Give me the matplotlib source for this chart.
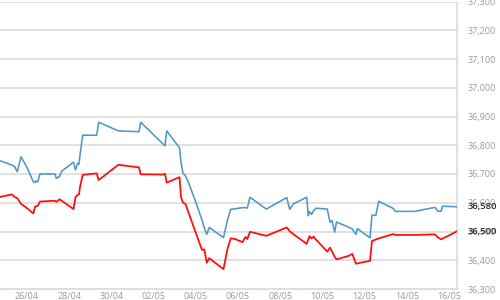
import matplotlib
matplotlib.use("Agg")
import matplotlib.pyplot as plt

# x positions in days from 26/04 00:00
days = [-1.280, -0.711, -0.592, -0.460, -0.284, -0.014, 0.299, 0.379, 0.427, 0.507,
        0.616, 1.327, 1.389, 1.540, 1.645, 2.204, 2.299, 2.393, 2.464, 2.512,
        2.640, 3.303, 3.398, 4.327, 5.308, 5.389, 6.469, 6.540, 6.621, 7.227,
        7.299, 7.393, 7.512, 7.654, 7.962, 8.294, 8.403, 8.521, 8.635, 9.313,
        9.502, 9.654, 9.858, 10.213, 10.355, 10.441, 10.569, 11.341, 12.313, 12.450,
        12.621, 13.256, 13.332, 13.389, 13.483, 13.578, 13.697, 14.232, 14.360, 14.455,
        14.583, 14.668, 15.237, 15.417, 15.592, 15.654, 16.256, 16.351, 16.531, 16.673,
        17.360, 17.455, 18.389, 19.336, 19.479, 19.630, 19.692, 20.365]

blue_vals = [36746, 36731, 36726, 36708, 36760, 36725, 36673, 36670, 36676, 36672,
             36700, 36700, 36685, 36691, 36710, 36741, 36714, 36737, 36734, 36766,
             36835, 36835, 36880, 36850, 36847, 36880, 36803, 36798, 36850, 36791,
             36742, 36703, 36693, 36670, 36610, 36540, 36512, 36490, 36514, 36479,
             36540, 36577, 36579, 36583, 36583, 36581, 36619, 36578, 36618, 36577,
             36596, 36619, 36555, 36569, 36560, 36572, 36581, 36578, 36532, 36538,
             36498, 36533, 36515, 36509, 36490, 36510, 36478, 36557, 36556, 36605,
             36580, 36570, 36570, 36584, 36570, 36571, 36588, 36586]

red_vals = [36620, 36629, 36620, 36616, 36596, 36582, 36563, 36586, 36588, 36589,
            36604, 36607, 36603, 36612, 36607, 36578, 36620, 36627, 36629, 36655,
            36697, 36702, 36679, 36732, 36723, 36699, 36698, 36701, 36670, 36689,
            36619, 36600, 36596, 36566, 36503, 36436, 36438, 36391, 36407, 36369,
            36439, 36476, 36474, 36463, 36481, 36474, 36499, 36485, 36514, 36501,
            36491, 36457, 36473, 36484, 36476, 36482, 36472, 36430, 36444, 36431,
            36412, 36403, 36415, 36422, 36388, 36389, 36398, 36467, 36472, 36476,
            36491, 36488, 36488, 36490, 36479, 36473, 36475, 36500]

x_tick_days = [0, 2, 4, 6, 8, 10, 12, 14, 16, 18, 20]
x_tick_labels = ["26/04", "28/04", "30/04", "02/05", "04/05", "06/05",
                 "08/05", "10/05", "12/05", "14/05", "16/05"]
y_ticks = [36300, 36400, 36500, 36600, 36700, 36800, 36900, 37000, 37100, 37200, 37300]
last_labels = ["36,580", "36,500"]

plt.rcParams['font.family'] = ['Open Sans', 'DejaVu Sans']

fig = plt.figure(figsize=(5, 3), dpi=100)
ax = fig.add_axes([0.0, 11 / 300, 457 / 500, 287.5 / 300])

grid_c = "#dedede"
ax.plot(days, blue_vals, color="#4f97c7", lw=1.15, zorder=3)
ax.plot(days, red_vals, color="#ff1010", lw=1.3, zorder=4)

ax.set_xlim(-1.28, 20.38)
ax.set_ylim(36300, 37300)

ax.set_yticks(y_ticks)
ax.set_yticklabels([f"{v:,}" for v in y_ticks])
ax.yaxis.tick_right()
ax.set_xticks(x_tick_days)
ax.set_xticklabels(x_tick_labels)
ax.tick_params(axis="y", length=0, pad=8, labelsize=6.5, labelcolor="#9a9a9a")
ax.tick_params(axis="x", length=0, pad=2.5, labelsize=6.5, labelcolor="#9a9a9a")

ax.grid(axis="y", color=grid_c, lw=1.3, zorder=1)
ax.grid(axis="x", visible=False)
for s in ["left", "top"]:
    ax.spines[s].set_visible(False)
ax.spines["right"].set_color(grid_c)
ax.spines["right"].set_linewidth(1.3)
ax.spines["bottom"].set_color(grid_c)
ax.spines["bottom"].set_linewidth(1.5)
ax.set_facecolor("white")
for lab in ax.get_yticklabels():
    lab.set_clip_on(False)

# end-value labels
for val, txt in [(blue_vals[-1], last_labels[0]), (red_vals[-1], last_labels[1])]:
    ax.annotate(txt, xy=(1.0, val), xycoords=("axes fraction", "data"),
                xytext=(8, 0), textcoords="offset points", va="center", ha="left",
                fontsize=6.8, color="#2a2a3a", fontweight="semibold", annotation_clip=False)

fig.savefig("out.png", dpi=100)
